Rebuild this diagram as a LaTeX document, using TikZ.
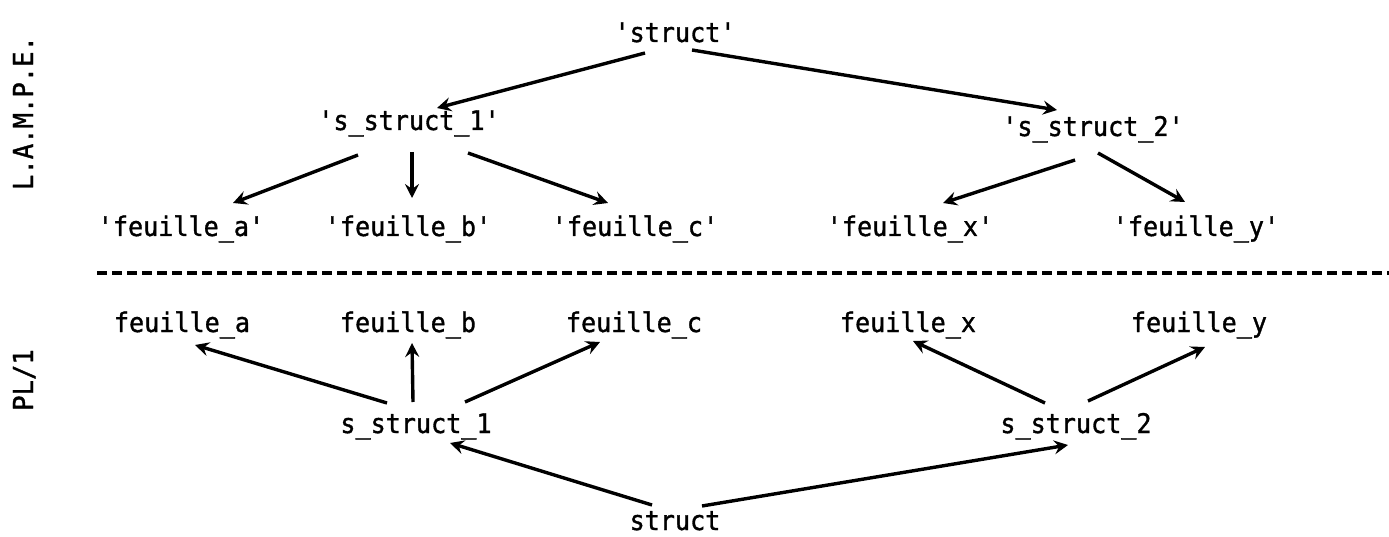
\documentclass[tikz,border=0pt]{standalone}
\usepackage{fontspec}
\setmonofont{DejaVu Sans Mono}[FakeStretch=0.93,FakeBold=1.2]
\usetikzlibrary{arrows.meta}
\begin{document}
\begin{tikzpicture}[x=1pt,y=-1pt,
  lbl/.style={font=\ttfamily\fontsize{27}{30}\selectfont, anchor=base, inner sep=0pt},
  side/.style={font=\ttfamily\fontsize{27.5}{30}\selectfont, anchor=base, inner sep=0pt, rotate=90},
  arr/.style={line width=3.4pt, -{Stealth[length=14pt,width=14pt,inset=5pt]}},
  sep/.style={line width=3.2pt, dash pattern=on 10pt off 5pt}]
\useasboundingbox (0,0) rectangle (1389,537);
% side labels
\node[side] (lampe) at (33,113) {L.A.M.P.E.};
\node[side] (pl) at (33,380) {PL/1};
% L.A.M.P.E. tree
\node[lbl] (T)  at (675,42)   {'struct'};
\node[lbl] (A1) at (409,130)  {'s\_struct\_1'};
\node[lbl] (A2) at (1093,136) {'s\_struct\_2'};
\node[lbl] (La) at (181,236)  {'feuille\_a'};
\node[lbl] (Lb) at (408,236)  {'feuille\_b'};
\node[lbl] (Lc) at (635,236)  {'feuille\_c'};
\node[lbl] (Lx) at (910,236)  {'feuille\_x'};
\node[lbl] (Ly) at (1196,236) {'feuille\_y'};
% separator
\coordinate (sepL) at (97,273);
\coordinate (sepR) at (1389,273);
\draw[sep] (sepL) -- (sepR);
% PL/1 tree
\node[lbl] (Ba) at (182,332)  {feuille\_a};
\node[lbl] (Bb) at (408,332)  {feuille\_b};
\node[lbl] (Bc) at (634,332)  {feuille\_c};
\node[lbl] (Bx) at (908,332)  {feuille\_x};
\node[lbl] (By) at (1199,332) {feuille\_y};
\node[lbl] (S1) at (416,433)  {s\_struct\_1};
\node[lbl] (S2) at (1076,433) {s\_struct\_2};
\node[lbl] (S)  at (675,530)  {struct};
% arrows, top
\draw[arr] ([shift={(-30,11)}]T.base) -- ([shift={(28,-22)}]A1.base);
\draw[arr] ([shift={(17,8)}]T.base) -- ([shift={(-36,-26)}]A2.base);
\draw[arr] ([shift={(-51,25)}]A1.base) -- ([shift={(52,-33)}]La.base);
\draw[arr] ([shift={(3,22)}]A1.base) -- ([shift={(4,-38)}]Lb.base);
\draw[arr] ([shift={(59,23)}]A1.base) -- ([shift={(-27,-33)}]Lc.base);
\draw[arr] ([shift={(-18,24)}]A2.base) -- ([shift={(33,-33)}]Lx.base);
\draw[arr] ([shift={(5,17)}]A2.base) -- ([shift={(-11,-34)}]Ly.base);
% arrows, bottom
\draw[arr] ([shift={(-29,-30)}]S1.base) -- ([shift={(13,13)}]Ba.base);
\draw[arr] ([shift={(-3,-31)}]S1.base) -- ([shift={(4,11)}]Bb.base);
\draw[arr] ([shift={(49,-31)}]S1.base) -- ([shift={(-34,10)}]Bc.base);
\draw[arr] ([shift={(-31,-30)}]S2.base) -- ([shift={(5,9)}]Bx.base);
\draw[arr] ([shift={(12,-32)}]S2.base) -- ([shift={(6,15)}]By.base);
\draw[arr] ([shift={(-23,-25)}]S.base) -- ([shift={(34,10)}]S1.base);
\draw[arr] ([shift={(27,-24)}]S.base) -- ([shift={(-8,12)}]S2.base);
\end{tikzpicture}
\end{document}
